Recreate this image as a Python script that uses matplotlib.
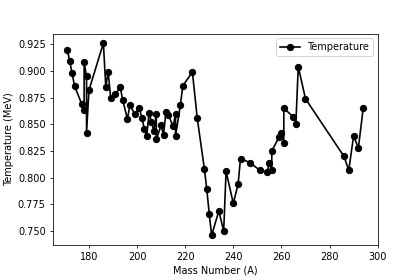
import matplotlib
matplotlib.use("Agg")
import matplotlib.pyplot as plt

# Mass number (A) and temperature (MeV)
mass_number = [171, 172, 173, 174, 177, 178, 178, 179, 179, 180,
               186, 187, 188, 189, 191, 193, 194, 196, 197, 199,
               201, 202, 203, 204, 205, 206, 207, 208, 208, 210,
               211, 212, 213, 215, 216, 216, 218, 219, 223, 225,
               228, 229, 230, 231, 234, 236, 237, 240, 242, 243,
               247, 251, 254, 255, 256, 256, 259, 260, 261, 261,
               265, 266, 267, 270, 286, 288, 290, 292, 294]
temperature = [0.920, 0.909, 0.898, 0.886, 0.869, 0.863, 0.908, 0.895, 0.842, 0.882,
               0.926, 0.885, 0.899, 0.875, 0.878, 0.885, 0.873, 0.855, 0.868, 0.860,
               0.865, 0.856, 0.846, 0.839, 0.861, 0.852, 0.844, 0.860, 0.836, 0.849,
               0.840, 0.862, 0.859, 0.848, 0.860, 0.839, 0.868, 0.886, 0.899, 0.856,
               0.808, 0.789, 0.766, 0.746, 0.769, 0.750, 0.806, 0.776, 0.794, 0.818,
               0.814, 0.807, 0.805, 0.814, 0.807, 0.825, 0.838, 0.842, 0.833, 0.865,
               0.857, 0.850, 0.904, 0.874, 0.820, 0.807, 0.839, 0.828, 0.865]

fig, ax = plt.subplots(figsize=(6, 4), dpi=70)
fig.subplots_adjust(left=0.125, right=0.9, top=0.88, bottom=0.125)

ax.plot(mass_number, temperature, 'ko-', ms=6.5, lw=1.7, label='Temperature')
ax.set_xlabel('Mass Number (A)')
ax.set_ylabel('Temperature (MeV)')
ax.legend(loc='upper right')

fig.savefig('out.png', dpi=70)
